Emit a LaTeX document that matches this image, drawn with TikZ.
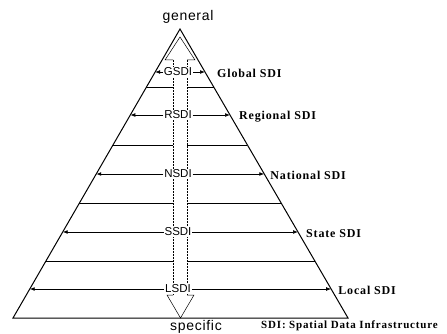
\documentclass[tikz,border=0pt]{standalone}
\usepackage{fontspec}
\setmainfont{Liberation Serif}
\setsansfont{Liberation Sans}
\newfontfamily\labfont{Liberation Serif}[LetterSpace=7]
\newfontfamily\notefont{Liberation Serif}[LetterSpace=7.5]
\newfontfamily\endfont{Liberation Sans}[LetterSpace=5]
\usetikzlibrary{arrows.meta,calc}
\begin{document}
\begin{tikzpicture}[x=1pt,y=-1pt,
  edge/.style={line width=1pt},
  lvl/.style={line width=0.7pt},
  headline/.style={line width=0.5pt},
  shaft/.style={line width=0.5pt,densely dotted},
  arr/.style={line width=0.7pt,-{Latex[length=5pt,width=3.8pt]}},
  sdi/.style={font=\fontsize{11.5}{12}\sffamily, fill=white, inner sep=0.8pt},
  rlab/.style={font=\fontsize{12}{13}\labfont\bfseries, anchor=west, inner sep=0pt},
  endlab/.style={font=\fontsize{14}{15}\endfont, inner sep=0pt}
]
\useasboundingbox (0,0) rectangle (447,334);
% triangle
\coordinate (apex) at (180,29);
\coordinate (bl) at (13,318);
\coordinate (br) at (348,318);
\draw[edge] (bl) -- (apex) -- (br) -- cycle;
% hollow double arrow
\coordinate (ut) at (180,37);
\coordinate (uhl) at (165,60);
\coordinate (uhr) at (195,60);
\coordinate (usl) at (173,60);
\coordinate (usr) at (187,60);
\coordinate (dsl) at (173,295);
\coordinate (dsr) at (187,295);
\coordinate (dhl) at (167,295);
\coordinate (dhr) at (194,295);
\coordinate (dt) at (180.5,318);
\draw[headline] (usl) -- (uhl) -- (ut) -- (uhr) -- (usr);
\draw[headline] (dsl) -- (dhl) -- (dt) -- (dhr) -- (dsr);
\draw[shaft] (usl) -- (dsl);
\draw[shaft] (usr) -- (dsr);
% level separators
\foreach \t/\n in {0.2007/a,0.4014/b,0.6021/c,0.8028/d}{
  \coordinate (L\n) at ($(apex)!\t!(bl)$);
  \coordinate (R\n) at ($(apex)!\t!(br)$);
  \draw[lvl] (L\n) -- (L\n -| usl);
  \draw[lvl] (L\n -| usr) -- (R\n);
}
% level labels
\foreach \t/\n/\txt/\rtxt/\gap in {0.1488/g/GSDI/Global SDI/12,0.2976/r/RSDI/Regional SDI/9,0.5017/n/NSDI/National SDI/6,0.7024/s/SSDI/State SDI/8,0.8997/l/LSDI/Local SDI/7}{
  \coordinate (\n l) at ($(apex)!\t!(bl)$);
  \coordinate (\n r) at ($(apex)!\t!(br)$);
  \node[sdi] (\n) at (\n l -| 178,0) {\txt};
  \draw[arr] (\n.west) -- (\n.west -| \n l);
  \draw[arr] (\n.east) -- (\n.east -| \n r);
  \node[rlab] (\n t) at ($(\n r)+(\gap,1.5)$) {\rtxt};
}
% end labels
\node[endlab] (gen) at (188,17) {general};
\node[endlab] (spec) at (196,327) {specific};
\node[font=\fontsize{11}{12}\notefont\bfseries, anchor=west, inner sep=0pt] (note) at (261,326) {SDI: Spatial Data Infrastructure};
\end{tikzpicture}
\end{document}
